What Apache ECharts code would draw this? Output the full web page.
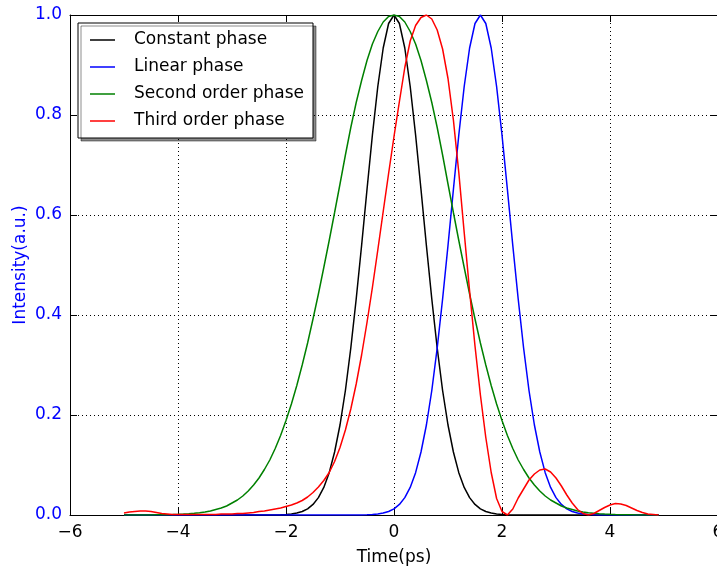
<!DOCTYPE html>
<html>
<head>
<meta charset="utf-8">
<script src="https://cdn.jsdelivr.net/npm/echarts@6/dist/echarts.min.js"></script>
<style>
  html, body { margin: 0; padding: 0; background: #fff; }
  #chart { width: 717px; height: 569px; }
</style>
</head>
<body>
<div id="chart"></div>
<script>
// time axis (ps), sampled every 0.1
const times = [
  -5.0, -4.9, -4.8, -4.7, -4.6, -4.5, -4.4, -4.3, -4.2, -4.1,
  -4.0, -3.9, -3.8, -3.7, -3.6, -3.5, -3.4, -3.3, -3.2, -3.1,
  -3.0, -2.9, -2.8, -2.7, -2.6, -2.5, -2.4, -2.3, -2.2, -2.1,
  -2.0, -1.9, -1.8, -1.7, -1.6, -1.5, -1.4, -1.3, -1.2, -1.1,
  -1.0, -0.9, -0.8, -0.7, -0.6, -0.5, -0.4, -0.3, -0.2, -0.1,
  0.0, 0.1, 0.2, 0.3, 0.4, 0.5, 0.6, 0.7, 0.8, 0.9,
  1.0, 1.1, 1.2, 1.3, 1.4, 1.5, 1.6, 1.7, 1.8, 1.9,
  2.0, 2.1, 2.2, 2.3, 2.4, 2.5, 2.6, 2.7, 2.8, 2.9,
  3.0, 3.1, 3.2, 3.3, 3.4, 3.5, 3.6, 3.7, 3.8, 3.9,
  4.0, 4.1, 4.2, 4.3, 4.4, 4.5, 4.6, 4.7, 4.8, 4.9
];

const constantPhase = [
  0, 0, 0, 0, 0, 0, 0, 0, 0, 0,
  0, 0, 0, 0, 0, 0, 0, 0, 0, 0,
  0, 0, 0, 0, 0, 0, 0, 0.0001, 0.0002, 0.0005,
  0.0011, 0.0021, 0.0039, 0.0070, 0.0124, 0.0211, 0.0347, 0.0551, 0.0847, 0.126,
  0.180, 0.249, 0.334, 0.432, 0.539, 0.651, 0.760, 0.857, 0.934, 0.983,
  1.0, 0.983, 0.934, 0.857, 0.760, 0.651, 0.539, 0.432, 0.334, 0.249,
  0.180, 0.126, 0.0847, 0.0551, 0.0347, 0.0211, 0.0124, 0.0070, 0.0039, 0.0021,
  0.0011, 0.0005, 0.0002, 0.0001, 0, 0, 0, 0, 0, 0,
  0, 0, 0, 0, 0, 0, 0, 0, 0, 0,
  0, 0, 0, 0, 0, 0, 0, 0, 0, 0
];

const linearPhase = [
  0, 0, 0, 0, 0, 0, 0, 0, 0, 0,
  0, 0, 0, 0, 0, 0, 0, 0, 0, 0,
  0, 0, 0, 0, 0, 0, 0, 0, 0, 0,
  0, 0, 0, 0, 0, 0, 0, 0, 0, 0,
  0, 0, 0, 0.0001, 0.0002, 0.0005, 0.0011, 0.0021, 0.0039, 0.0070,
  0.0124, 0.0211, 0.0347, 0.0551, 0.0847, 0.126, 0.180, 0.249, 0.334, 0.432,
  0.539, 0.651, 0.760, 0.857, 0.934, 0.983, 1.0, 0.983, 0.934, 0.857,
  0.760, 0.651, 0.539, 0.432, 0.334, 0.249, 0.180, 0.126, 0.0847, 0.0551,
  0.0347, 0.0211, 0.0124, 0.0070, 0.0039, 0.0021, 0.0011, 0.0005, 0.0002, 0.0001,
  0, 0, 0, 0, 0, 0, 0, 0, 0, 0
];

const secondOrderPhase = [
  0, 0, 0.0001, 0.0001, 0.0001, 0.0002, 0.0003, 0.0004, 0.0006, 0.0009,
  0.0013, 0.0018, 0.0024, 0.0033, 0.0045, 0.006, 0.008, 0.011, 0.014, 0.018,
  0.024, 0.030, 0.038, 0.048, 0.060, 0.074, 0.091, 0.110, 0.133, 0.159,
  0.189, 0.222, 0.259, 0.300, 0.344, 0.392, 0.442, 0.495, 0.549, 0.605,
  0.662, 0.720, 0.775, 0.825, 0.869, 0.909, 0.942, 0.967, 0.986, 0.997,
  1.0, 0.997, 0.986, 0.967, 0.942, 0.909, 0.869, 0.825, 0.775, 0.720,
  0.662, 0.605, 0.549, 0.495, 0.442, 0.392, 0.344, 0.300, 0.259, 0.222,
  0.189, 0.159, 0.133, 0.110, 0.091, 0.074, 0.060, 0.048, 0.038, 0.030,
  0.024, 0.018, 0.014, 0.011, 0.008, 0.006, 0.0045, 0.0033, 0.0024, 0.0018,
  0.0013, 0.0009, 0.0006, 0.0004, 0.0003, 0.0002, 0.0001, 0.0001, 0.0001, 0
];

const thirdOrderPhase = [
  0.004, 0.006, 0.007, 0.008, 0.008, 0.007, 0.005, 0.003, 0.002, 0.001,
  0.001, 0.001, 0.001, 0.001, 0.001, 0.001, 0.001, 0.001, 0.002, 0.002,
  0.002, 0.003, 0.003, 0.004, 0.005, 0.007, 0.008, 0.010, 0.012, 0.014,
  0.017, 0.020, 0.024, 0.029, 0.036, 0.045, 0.056, 0.069, 0.085, 0.107,
  0.135, 0.170, 0.212, 0.262, 0.320, 0.385, 0.455, 0.530, 0.607, 0.683,
  0.757, 0.827, 0.895, 0.948, 0.979, 0.995, 1.000, 0.992, 0.970, 0.932,
  0.873, 0.790, 0.685, 0.565, 0.448, 0.338, 0.240, 0.155, 0.085, 0.033,
  0.007, 0.000, 0.012, 0.034, 0.052, 0.070, 0.082, 0.090, 0.092, 0.086,
  0.074, 0.058, 0.040, 0.024, 0.011, 0.003, 0.000, 0.003, 0.009, 0.015,
  0.020, 0.023, 0.022, 0.019, 0.014, 0.009, 0.005, 0.002, 0.001, 0.000
];

const seriesNames = ['Constant phase', 'Linear phase', 'Second order phase', 'Third order phase'];
const seriesColors = ['#000000', '#0000ff', '#008000', '#ff0000'];
const seriesValues = [constantPhase, linearPhase, secondOrderPhase, thirdOrderPhase];

const font = 'DejaVu Sans';
const minus = v => String(v).replace('-', '\u2212');

const chart = echarts.init(document.getElementById('chart'));

const frameAxis = {
  type: 'value',
  axisLine: { show: true, onZero: false, lineStyle: { color: '#000', width: 1 } },
  axisTick: { show: true, inside: true, length: 7, lineStyle: { color: '#000' } },
  axisLabel: { show: false },
  splitLine: { show: false }
};

chart.setOption({
  animation: false,
  backgroundColor: '#fff',
  grid: { left: 70, top: 15, width: 648, height: 500, outerBoundsMode: 'none', containLabel: false },
  legend: {
    data: seriesNames,
    orient: 'vertical',
    left: 78,
    top: 23,
    padding: [7, 9, 7, 12],
    icon: 'rect',
    itemWidth: 25,
    itemHeight: 1.5,
    itemGap: 7,
    backgroundColor: '#fff',
    borderColor: '#000',
    borderWidth: 1,
    shadowColor: 'rgba(0,0,0,0.45)',
    shadowOffsetX: 3,
    shadowOffsetY: 3,
    shadowBlur: 0,
    textStyle: { fontFamily: font, fontSize: 17, color: '#000', lineHeight: 20, padding: [0, 0, 0, 14] }
  },
  xAxis: [
    {
      type: 'value',
      min: -6, max: 6, interval: 2,
      name: 'Time(ps)',
      nameLocation: 'middle',
      nameGap: 34,
      nameMoveOverlap: false,
      nameTextStyle: { fontFamily: font, fontSize: 17, color: '#000' },
      axisLine: { show: true, onZero: false, lineStyle: { color: '#000', width: 1 } },
      axisTick: { show: true, inside: true, length: 7, lineStyle: { color: '#000' } },
      axisLabel: { fontFamily: font, fontSize: 17, color: '#000', margin: 9, formatter: minus },
      splitLine: { show: true, lineStyle: { color: '#000', width: 1, type: [1, 3] } }
    },
    Object.assign({}, frameAxis, { position: 'top', min: -6, max: 6, interval: 2 })
  ],
  yAxis: [
    {
      type: 'value',
      min: 0, max: 1, interval: 0.2,
      name: 'Intensity(a.u.)',
      nameLocation: 'middle',
      nameGap: 41,
      nameMoveOverlap: false,
      nameTextStyle: { fontFamily: font, fontSize: 17, color: '#0000ff' },
      axisLine: { show: true, onZero: false, lineStyle: { color: '#000', width: 1 } },
      axisTick: { show: true, inside: true, length: 7, lineStyle: { color: '#000' } },
      axisLabel: { fontFamily: font, fontSize: 17, color: '#0000ff', margin: 8, formatter: v => v.toFixed(1) },
      splitLine: { show: true, lineStyle: { color: '#000', width: 1, type: [1, 3] } }
    },
    Object.assign({}, frameAxis, { position: 'right', min: 0, max: 1, interval: 0.2 })
  ],
  series: seriesNames.map((name, k) => ({
    name: name,
    type: 'line',
    xAxisIndex: 0,
    yAxisIndex: 0,
    symbol: 'none',
    lineStyle: { color: seriesColors[k], width: 1.5 },
    itemStyle: { color: seriesColors[k] },
    data: times.map((t, i) => [t, seriesValues[k][i]])
  }))
});
</script>
</body>
</html>
